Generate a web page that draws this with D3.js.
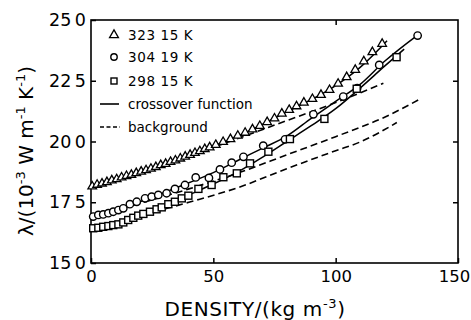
<!DOCTYPE html>
<html><head><meta charset="utf-8">
<script src="https://cdn.jsdelivr.net/npm/d3@7"></script>
<style>
html,body{margin:0;padding:0;background:#fff;}
svg{display:block;}
text{font-family:"DejaVu Sans",sans-serif;fill:#000;}
</style></head>
<body>
<svg id="c" width="471" height="320"></svg>
<script>
// ---- data (density kg m^-3, lambda 10^-3 W m^-1 K^-1) ----
const xTicks = [0, 50, 100, 150];
const yTicks = [15, 17.5, 20, 22.5, 25];
const legendLabels = ["323.15 K", "304.19 K", "298.15 K", "crossover function", "background"];

const tri323Rho = [0.5,2.5,4.5,6.5,8.5,10.5,12.5,14.5,16.5,18.5,20.5,22.5,24.5,26.5,28.5,30.5,32.5,34.5,36.5,38.5,40.5,42.5,44.5,46.5,48.5,51,54,57,60,63,66,69,72,75,78,81,84,87,90.5,94,97.5,101,104.5,108,111.5,115,119];
const tri323Lam = [18.15,18.22,18.27,18.33,18.40,18.45,18.52,18.58,18.63,18.70,18.76,18.82,18.88,18.95,19.03,19.08,19.16,19.22,19.30,19.38,19.45,19.53,19.60,19.69,19.76,19.86,19.98,20.10,20.24,20.36,20.50,20.64,20.80,20.95,21.15,21.30,21.45,21.60,21.75,21.92,22.12,22.38,22.65,22.95,23.30,23.68,24.02];

const cir304Rho = [0.9,3.0,5.0,7.1,9.1,11.2,13.2,15.9,18.7,22.1,24.8,27.5,30.9,34.3,38.4,42.8,48.2,52.7,57.5,62.3,70.4,79.3,90.9,103.1,108.8,117.8,133.5];
const cir304Lam = [16.91,16.98,17.00,17.05,17.11,17.18,17.25,17.42,17.52,17.66,17.73,17.80,17.87,18.05,18.21,18.52,18.50,18.85,19.13,19.37,19.83,20.09,21.12,21.85,22.20,23.15,24.36];

const sq298Rho = [0.9,3.0,5.0,7.1,9.1,11.2,13.2,15.2,17.3,19.3,21.4,24.1,26.8,28.9,31.6,34.3,37.1,39.8,43.9,49.3,54.1,59.6,65.0,72.5,81.3,95.4,108.6,124.9];
const sq298Lam = [16.43,16.45,16.49,16.52,16.56,16.59,16.67,16.77,16.86,16.95,17.02,17.11,17.21,17.29,17.42,17.52,17.66,17.77,18.05,18.21,18.53,18.69,19.10,19.58,20.10,20.93,22.17,23.47];

// crossover-function curves (solid)
const cross323Rho = [0,20,40,60,80,100,110,121];
const cross323Lam = [18.15,18.75,19.43,20.22,21.22,22.30,23.05,24.15];
const cross304Rho = [0,10,20,30,40,50,60,70,80,90,100,110,120,133.5];
const cross304Lam = [16.90,17.13,17.52,17.90,18.30,18.72,19.22,19.72,20.22,20.95,21.65,22.35,23.30,24.38];
const cross298Rho = [0,10,20,30,40,50,60,70,80,90,100,110,120,128];
const cross298Lam = [16.42,16.55,16.95,17.35,17.80,18.25,18.75,19.35,20.00,20.65,21.35,22.20,23.10,23.80];

// background curves (dashed)
const bg323Rho = [0,20,40,60,80,100,119.5];
const bg323Lam = [18.10,18.72,19.40,20.12,20.86,21.60,22.40];
const bg304Rho = [0,20,40,60,80,100,120,134];
const bg304Lam = [16.90,17.45,18.05,18.70,19.45,20.20,21.00,21.72];
const bg298Rho = [0,20,40,60,80,100,110,125];
const bg298Lam = [16.42,16.95,17.50,18.10,18.88,19.62,19.98,20.78];

// ---- chart ----
const svg = d3.select("#c");
const x = d3.scaleLinear().domain([0,150]).range([91,458]);
const y = d3.scaleLinear().domain([15,25]).range([263,20]);
const fmtY = d => d.toFixed(1).replace(".", "\u2009");

const zip = (a,b) => a.map((v,i)=>[v,b[i]]);
const line = d3.line().x(d=>x(d[0])).y(d=>y(d[1])).curve(d3.curveMonotoneX);

// frame
svg.append("rect").attr("x",x(0)).attr("y",y(25)).attr("width",x(150)-x(0)).attr("height",y(15)-y(25))
  .attr("fill","none").attr("stroke","#000").attr("stroke-width",1.6);

// axes with inward ticks
const gB = svg.append("g").attr("transform",`translate(0,${y(15)})`)
  .call(d3.axisBottom(x).tickValues(xTicks).tickSizeInner(-5).tickSizeOuter(0).tickPadding(7).tickFormat(d3.format("d")));
const gL = svg.append("g").attr("transform",`translate(${x(0)},0)`)
  .call(d3.axisLeft(y).tickValues(yTicks).tickSizeInner(-5).tickSizeOuter(0).tickPadding(5).tickFormat(fmtY));
const gR = svg.append("g").attr("transform",`translate(${x(150)},0)`)
  .call(d3.axisRight(y).tickValues([17.5,20,22.5]).tickSizeInner(-5).tickSizeOuter(0).tickFormat(""));
const gT = svg.append("g").attr("transform",`translate(0,${y(25)})`)
  .call(d3.axisTop(x).tickValues([100]).tickSizeInner(-5).tickSizeOuter(0).tickFormat(""));
[gB,gL,gR,gT].forEach(g=>{
  g.select(".domain").remove();
  g.selectAll("line").attr("stroke","#000").attr("stroke-width",1.5);
  g.selectAll("text").attr("font-family","DejaVu Sans").attr("font-size",17.5).attr("fill","#000");
});
gB.selectAll("text").attr("font-size",16.5).attr("dx",d=>d===150 ? -4 : 0);

// background dashed
[[bg323Rho,bg323Lam],[bg304Rho,bg304Lam],[bg298Rho,bg298Lam]].forEach(([r,l])=>{
  svg.append("path").attr("d",line(zip(r,l))).attr("fill","none").attr("stroke","#000")
    .attr("stroke-width",1.6).attr("stroke-dasharray","7,4");
});
// crossover solid
[[cross323Rho,cross323Lam],[cross304Rho,cross304Lam],[cross298Rho,cross298Lam]].forEach(([r,l])=>{
  svg.append("path").attr("d",line(zip(r,l))).attr("fill","none").attr("stroke","#000").attr("stroke-width",1.5);
});

// markers
svg.append("g").selectAll("path").data(zip(tri323Rho,tri323Lam)).join("path")
  .attr("d",d3.symbol(d3.symbolTriangle,32)())
  .attr("transform",d=>`translate(${x(d[0])},${y(d[1])})`)
  .attr("fill","#fff").attr("stroke","#000").attr("stroke-width",1.3);
svg.append("g").selectAll("circle").data(zip(cir304Rho,cir304Lam)).join("circle")
  .attr("cx",d=>x(d[0])).attr("cy",d=>y(d[1])).attr("r",3.7)
  .attr("fill","#fff").attr("stroke","#000").attr("stroke-width",1.4);
svg.append("g").selectAll("rect").data(zip(sq298Rho,sq298Lam)).join("rect")
  .attr("x",d=>x(d[0])-3.5).attr("y",d=>y(d[1])-3.5).attr("width",7).attr("height",7)
  .attr("fill","#fff").attr("stroke","#000").attr("stroke-width",1.4);

// legend
const lg = svg.append("g");
const rows = [35,57,81,104,127];
const lx = 114, tx = 128;
lg.append("path").attr("d",d3.symbol(d3.symbolTriangle,34)()).attr("transform",`translate(${lx},${rows[0]})`)
  .attr("fill","#fff").attr("stroke","#000").attr("stroke-width",1.3);
lg.append("circle").attr("cx",lx).attr("cy",rows[1]).attr("r",3.2).attr("fill","#fff").attr("stroke","#000").attr("stroke-width",1.4);
lg.append("rect").attr("x",lx-3).attr("y",rows[2]-3).attr("width",6).attr("height",6).attr("fill","#fff").attr("stroke","#000").attr("stroke-width",1.4);
lg.append("line").attr("x1",100).attr("x2",119).attr("y1",rows[3]).attr("y2",rows[3]).attr("stroke","#000").attr("stroke-width",1.6);
lg.append("line").attr("x1",100).attr("x2",120).attr("y1",rows[4]).attr("y2",rows[4]).attr("stroke","#000").attr("stroke-width",1.6).attr("stroke-dasharray","4,2.5");
legendLabels.forEach((t,i)=>{
  lg.append("text").attr("x",tx).attr("y",rows[i]+5).attr("font-size",13.5)
    .attr("letter-spacing", i<3 ? 0.6 : 0)
    .text(i<3 ? t.replace(".", " ") : t);
});

// x-axis title
const xt = svg.append("text").attr("x",255).attr("y",316).attr("text-anchor","middle")
  .attr("font-size",20).attr("letter-spacing",0.6);
xt.append("tspan").text("DENSITY/(kg m");
xt.append("tspan").attr("dy",-8).attr("font-size",13).text("-3");
xt.append("tspan").attr("dy",8).text(")");

// y-axis title
const yt = svg.append("text").attr("transform",`translate(33,151) rotate(-90)`)
  .attr("text-anchor","middle").attr("font-size",20);
yt.append("tspan").text("\u03bb/(10");
yt.append("tspan").attr("dy",-8).attr("font-size",13).text("-3");
yt.append("tspan").attr("dy",8).text(" W m");
yt.append("tspan").attr("dy",-8).attr("font-size",13).text("-1");
yt.append("tspan").attr("dy",8).text(" K");
yt.append("tspan").attr("dy",-8).attr("font-size",13).text("-1");
yt.append("tspan").attr("dy",8).text(")");
</script>
</body></html>
